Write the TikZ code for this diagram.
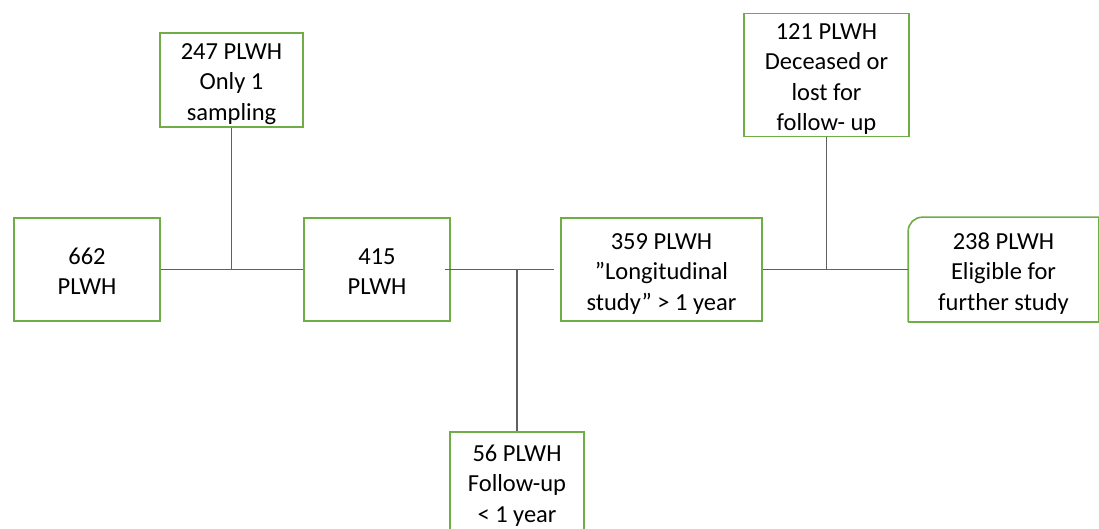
\documentclass[tikz,border=0pt]{standalone}
\usepackage{fontspec}
\setmainfont{Carlito}
\definecolor{boxgreen}{HTML}{70AD47}
\definecolor{linegray}{HTML}{606060}
\newcommand{\ls}{\rule[-4pt]{0pt}{28pt}}
\begin{document}
\begin{tikzpicture}[x=1pt,y=-1pt,
  box/.style={draw=boxgreen,line width=1.6pt,rectangle,inner sep=0pt,align=center,
    font=\fontsize{24.5}{30.5}\selectfont},
  conn/.style={draw=linegray,line width=1.2pt}]
\clip (0,0) rectangle (1099,529);
\fill[white] (0,0) rectangle (1099,529);
\node[box,minimum width=146,minimum height=103] (b662) at (87,269.5) {\ls 662\\\ls PLWH};
\node[box,minimum width=146,minimum height=103] (b415) at (377,269.5) {\ls 415\\\ls PLWH};
\node[box,minimum width=201,minimum height=103] (b359) at (661.5,269.5) {\ls 359 PLWH\\\ls ”Longitudinal\\\ls study” > 1 year};
\node[box,draw=none,minimum width=189,minimum height=103] (b238) at (1003.5,269.5) {\ls 238 PLWH\\\ls Eligible for\\\ls further study};
\draw[draw=boxgreen,line width=1.6pt,rounded corners=14pt] (b238.south west) -- (b238.north west) -- (b238.north east);
\draw[draw=boxgreen,line width=1.6pt] (b238.north east) -- (b238.south east) -- (b238.south west);
\node[box,minimum width=143,minimum height=94] (b247) at (231.5,80) {\ls 247 PLWH\\\ls Only 1\\\ls sampling};
\node[box,minimum width=165,minimum height=123] (b121) at (826.5,75) {\ls 121 PLWH\\\ls Deceased or\\\ls lost for\\\ls follow- up};
\node[box,minimum width=134,minimum height=99] (b56) at (517,481.5) {\ls 56 PLWH\\\ls Follow-up\\\ls < 1 year};
\draw[conn] (b662.east) -- (b415.west);
\draw[conn] (b247.south) -- (b247.south |- b662.east);
\draw[conn] ([xshift=-6pt]b415.east) -- ([xshift=-6pt]b359.west);
\draw[conn] (b56.north) -- (b56.north |- b415.east);
\draw[conn] (b359.east) -- (b238.west);
\draw[conn] (b121.south) -- (b121.south |- b359.east);
\end{tikzpicture}
\end{document}
